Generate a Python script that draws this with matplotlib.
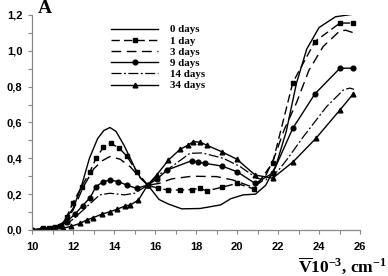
import matplotlib
matplotlib.use("Agg")
import matplotlib.pyplot as plt
from matplotlib.ticker import MultipleLocator, FixedLocator, FixedFormatter

plt.rcParams['mathtext.fontset'] = 'custom'
plt.rcParams['mathtext.rm'] = 'Liberation Serif:bold'
plt.rcParams['mathtext.bf'] = 'Liberation Serif:bold'
plt.rcParams['mathtext.it'] = 'Liberation Serif:bold'

labels = ["0 days", "1 day", "3 days", "9 days", "14 days", "34 days"]

x0 = [10, 10.5, 11, 11.5, 12, 12.4, 12.8, 13.2, 13.5, 13.8, 14.1, 14.5, 15.0, 15.3,
      15.65, 16.2, 16.65, 17.3, 18.2, 19.2, 19.7, 20.3, 20.9, 21.4, 21.9, 22.4, 22.9,
      23.4, 24.0, 24.8, 25.7]
y0 = [0, 0.005, 0.01, 0.04, 0.12, 0.24, 0.40, 0.51, 0.555, 0.572, 0.55, 0.47, 0.35, 0.29,
      0.25, 0.17, 0.145, 0.118, 0.12, 0.14, 0.175, 0.196, 0.2, 0.25, 0.36, 0.55, 0.82,
      1.01, 1.13, 1.19, 1.205]

x1 = [10, 10.55, 10.85, 11.12, 11.37, 11.69, 12.0, 12.42, 12.83, 13.12, 13.48, 13.84,
      14.26, 14.62, 15.1, 15.64, 16.13, 16.65, 17.22, 17.8, 18.2, 18.52, 19.25, 19.99,
      20.83, 21.74, 22.72, 23.8, 25.02, 25.67]
y1 = [0, 0.01, 0.012, 0.015, 0.02, 0.074, 0.153, 0.242, 0.326, 0.40, 0.462, 0.484,
      0.456, 0.413, 0.326, 0.251, 0.233, 0.223, 0.223, 0.225, 0.233, 0.218, 0.238, 0.26,
      0.229, 0.376, 0.823, 1.052, 1.155, 1.155]

x3 = [10, 11, 11.5, 12, 12.5, 13.0, 13.4, 13.8, 14.3, 14.8, 15.2, 15.65, 16.2, 16.8,
      17.8, 19.0, 19.8, 20.5, 20.8, 21.3, 21.8, 22.3, 22.9, 23.5, 24.2, 25.0, 25.3, 25.7]
y3 = [0, 0.01, 0.03, 0.11, 0.24, 0.34, 0.385, 0.41, 0.395, 0.352, 0.30, 0.25, 0.26, 0.285,
      0.30, 0.298, 0.279, 0.25, 0.238, 0.28, 0.40, 0.56, 0.71, 0.89, 1.024, 1.11, 1.115, 1.10]

x9 = [10, 10.5, 11, 11.4, 11.69, 12.1, 12.47, 12.83, 13.12, 13.48, 13.8, 14.2, 14.62,
      15.1, 15.64, 16.08, 16.6, 17.79, 18.1, 18.44, 19.25, 19.99, 20.88, 21.74, 22.72,
      23.8, 25.02, 25.67]
y9 = [0, 0.005, 0.01, 0.02, 0.046, 0.089, 0.136, 0.18, 0.242, 0.27, 0.279, 0.27, 0.251,
      0.232, 0.251, 0.283, 0.335, 0.387, 0.378, 0.372, 0.357, 0.326, 0.26, 0.317, 0.568,
      0.76, 0.903, 0.903]

x14 = [10, 11, 11.5, 12, 12.67, 13.3, 13.8, 14.5, 15.0, 15.65, 16.2, 16.82, 17.7, 18.3,
       19.33, 20.15, 20.96, 21.4, 22.0, 22.42, 23.23, 24.37, 25.19, 25.5, 25.7]
y14 = [0, 0.005, 0.02, 0.06, 0.13, 0.196, 0.205, 0.196, 0.205, 0.25, 0.31, 0.354, 0.428,
       0.43, 0.40, 0.354, 0.289, 0.28, 0.33, 0.391, 0.52, 0.689, 0.782, 0.792, 0.785]

x34 = [10, 10.5, 11, 11.5, 11.9, 12.34, 12.67, 12.99, 13.4, 13.8, 14.13, 14.54, 14.8,
       15.19, 15.64, 16.08, 16.65, 17.22, 17.63, 17.87, 18.2, 18.55, 19.25, 19.99, 20.88,
       21.74, 22.75, 23.85, 25.02, 25.67]
y34 = [0, 0.002, 0.005, 0.01, 0.02, 0.037, 0.056, 0.069, 0.088, 0.102, 0.115, 0.134,
       0.14, 0.167, 0.251, 0.307, 0.39, 0.45, 0.475, 0.493, 0.49, 0.472, 0.437, 0.395,
       0.307, 0.289, 0.382, 0.512, 0.67, 0.76]

xticks = [10, 12, 14, 16, 18, 20, 22, 24, 26]
xticklabels = ["10", "12", "14", "16", "18", "20", "22", "24", "26"]
yticks = [0.0, 0.2, 0.4, 0.6, 0.8, 1.0, 1.2]
yticklabels = ["0,0", "0,2", "0,4", "0,6", "0,8", "1,0", "1,2"]

fig = plt.figure(figsize=(3.88, 2.76), dpi=100)
ax = fig.add_axes([0.0825, 0.1667, 0.8455, 0.779])

lw = 1.0
ax.plot(x0, y0, color='black', lw=lw, ls='-', label=labels[0])
ax.plot(x1, y1, color='black', lw=lw, ls=(0, (6, 3)), marker='s', ms=3.4, label=labels[1])
ax.plot(x3, y3, color='black', lw=lw, ls=(0, (7, 4)), label=labels[2])
ax.plot(x9, y9, color='black', lw=lw, ls='-', marker='o', ms=3.4, label=labels[3])
ax.plot(x14, y14, color='black', lw=0.9, ls=(0, (8, 2, 1.5, 2)), label=labels[4])
ax.plot(x34, y34, color='black', lw=lw, ls='-', marker='^', ms=3.4, label=labels[5])

ax.set_xlim(10, 26)
ax.set_ylim(0, 1.2)
ax.xaxis.set_major_locator(FixedLocator(xticks))
ax.xaxis.set_major_formatter(FixedFormatter(xticklabels))
ax.xaxis.set_minor_locator(MultipleLocator(1))
ax.yaxis.set_major_locator(FixedLocator(yticks))
ax.yaxis.set_major_formatter(FixedFormatter(yticklabels))
ax.yaxis.set_minor_locator(MultipleLocator(0.1))

for s in ['top', 'right']:
    ax.spines[s].set_visible(False)
for s in ['left', 'bottom']:
    ax.spines[s].set_color('#888888')
    ax.spines[s].set_linewidth(0.9)

ax.tick_params(which='both', direction='out', length=3, width=0.8, color='#888888')
ax.tick_params(axis='x', pad=6)
ax.tick_params(axis='y', pad=4)
for t in ax.get_xticklabels() + ax.get_yticklabels():
    t.set_fontfamily('Liberation Sans')
    t.set_fontweight('bold')
    t.set_fontsize(8)

leg = ax.legend(loc='upper left', bbox_to_anchor=(0.22, 0.985), frameon=False,
                handlelength=4.4, handletextpad=1.1, labelspacing=0.15,
                prop={'family': 'Liberation Serif', 'weight': 'bold', 'size': 7.8},
                borderaxespad=0.2)

fig.text(0.097, 1.0, "A", family='Liberation Serif', weight='bold', fontsize=14,
         ha='left', va='top')
fig.text(0.997, 0.0, r'$\overline{\mathrm{V}}10^{-3}$, cm$^{-1}$',
         family='Liberation Serif', weight='bold', fontsize=12.5, ha='right', va='bottom')

fig.savefig("out.png", dpi=100)
